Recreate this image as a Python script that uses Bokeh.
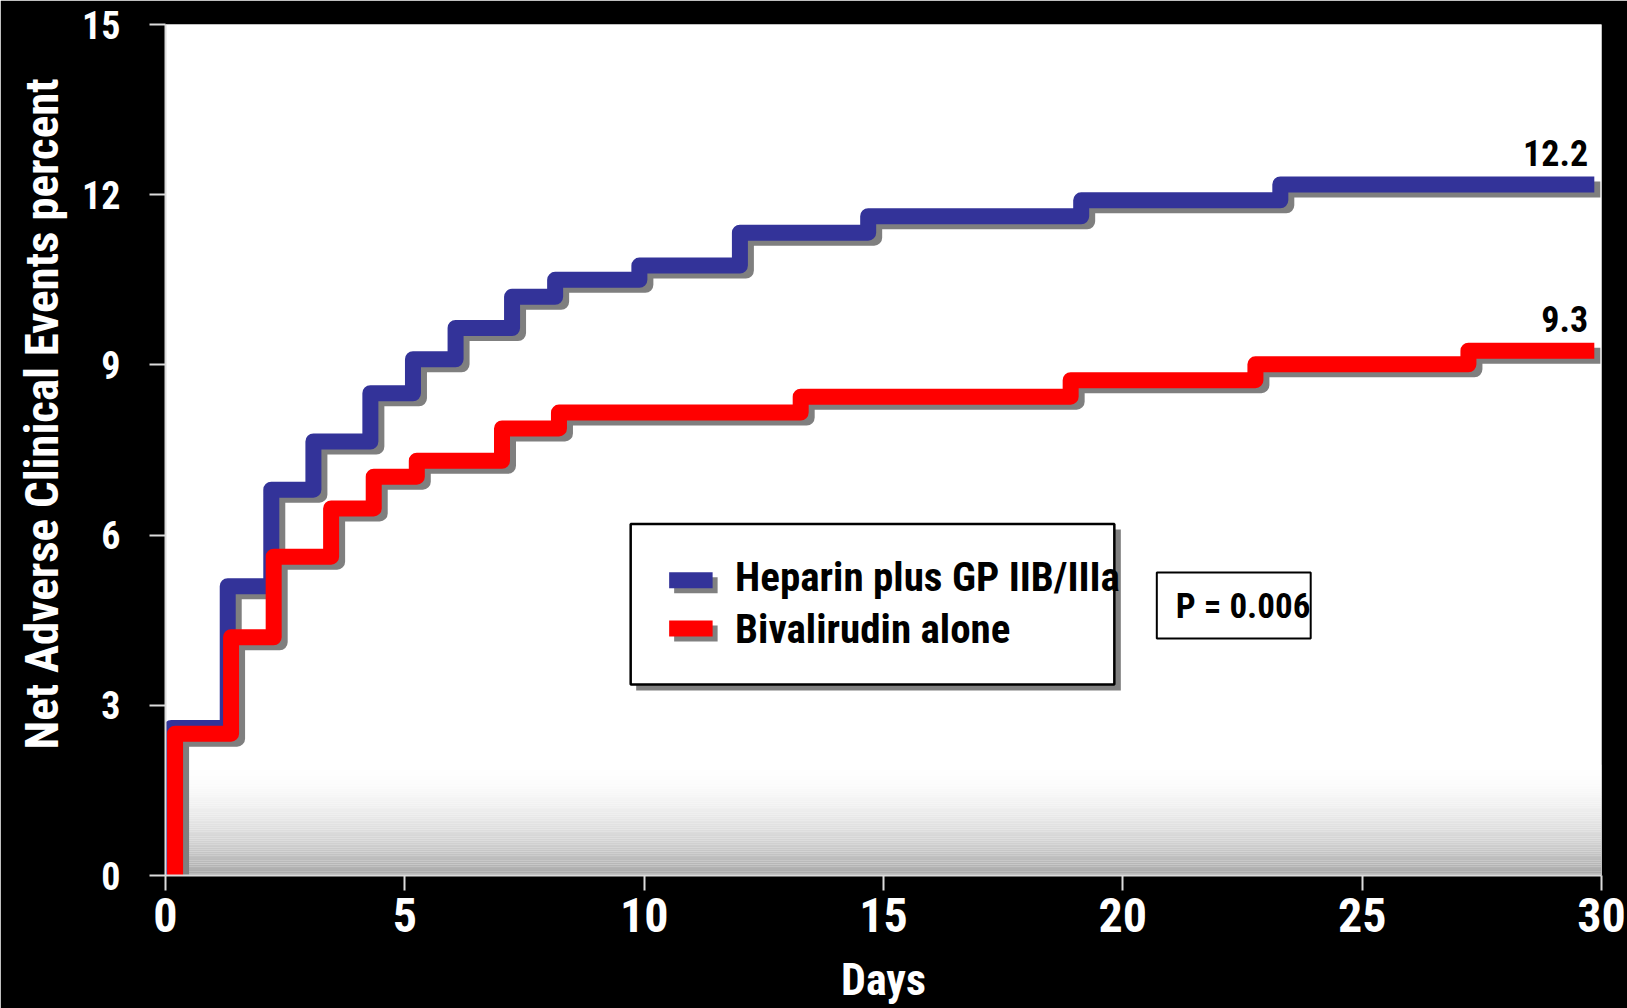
from bokeh.plotting import figure
from bokeh.models import Range1d, FixedTicker, Title
from bokeh.core.properties import value
from bokeh.embed import file_html
from bokeh.resources import INLINE

# ---------------- data ----------------
series_names = ["Heparin plus GP IIB/IIIa", "Bivalirudin alone"]
series_colors = ["#333399", "#ff0000"]

heparin_days = [0.12, 1.30, 2.21, 3.09, 4.28, 5.17, 6.06, 7.24, 8.14, 9.90, 12.00, 14.68, 19.13, 23.29]
heparin_pct = [2.6, 5.1, 6.8, 7.65, 8.5, 9.1, 9.65, 10.2, 10.5, 10.75, 11.33, 11.62, 11.9, 12.18]

bival_days = [0.20, 1.37, 2.26, 3.46, 4.35, 5.25, 7.03, 8.22, 13.27, 18.91, 22.77, 27.22]
bival_pct = [2.5, 4.2, 5.62, 6.47, 7.03, 7.31, 7.88, 8.16, 8.44, 8.73, 9.01, 9.25]

end_day = 29.85
final_labels = ["12.2", "9.3"]
p_value_text = "P = 0.006"

x_ticks = [0, 5, 10, 15, 20, 25, 30]
y_ticks = [0, 3, 6, 9, 12, 15]
x_title = "Days"
y_title = "Net Adverse Clinical Events percent"

# ---------------- layout / style ----------------
W, H = 1627, 1008
LEFT, RIGHT, TOP, BOTTOM = 164, 26, 24, 133
FW, FH = W - LEFT - RIGHT, H - TOP - BOTTOM
X0, X1, Y0, Y1 = 0, 30, 0, 15
FONT = "Roboto Condensed"
CAP = 0.355  # half cap height (em) - text glyph anchor correction


def px2x(px):
    return X0 + (px - LEFT) * (X1 - X0) / FW


def py2y(py):
    return Y0 + (TOP + FH - py) * (Y1 - Y0) / FH


def dx(px):
    return px * (X1 - X0) / FW


def dy(px):
    return px * (Y1 - Y0) / FH


def step_path(days, pct, end):
    xs, ys = [days[0]], [0.0]
    for i, (d, v) in enumerate(zip(days, pct)):
        xs.append(d)
        ys.append(v)
        nxt = days[i + 1] if i + 1 < len(days) else end
        xs.append(nxt)
        ys.append(v)
    return xs, ys


p = figure(width=W, height=H, x_range=Range1d(X0, X1), y_range=Range1d(Y0, Y1),
           output_backend="svg", toolbar_location=None,
           min_border_left=LEFT, min_border_right=RIGHT,
           min_border_top=TOP, min_border_bottom=BOTTOM,
           background_fill_color="white", border_fill_color="black",
           outline_line_color=None)
p.grid.visible = False

# gradient near the bottom of the plot area
n_strips = 60
g_top = 1.95
for i in range(n_strips):
    y_hi = g_top - g_top * i / n_strips
    y_lo = g_top - g_top * (i + 1) / n_strips
    t = (i + 0.5) / n_strips
    g = int(round(255 - 88 * t ** 1.8))
    col = "#%02x%02x%02x" % (g, g, g)
    p.quad(left=X0, right=X1, bottom=y_lo, top=y_hi, fill_color=col, line_color=None)

# step curves with drop shadows
sx, sy = dx(6), dy(5)
for days, pct, color in [(heparin_days, heparin_pct, series_colors[0]),
                         (bival_days, bival_pct, series_colors[1])]:
    xs, ys = step_path(days, pct, end_day)
    p.line([x + sx for x in xs], [y - sy for y in ys], line_color="#7f7f7f", line_width=16,
           line_join="round", line_cap="butt")
    p.line(xs, ys, line_color=color, line_width=16, line_join="round", line_cap="butt")


def put_text(xs, base_ys, texts, size, align="left"):
    p.text(x=xs, y=[b + dy(CAP * size) for b in base_ys], text=texts,
           text_font=value(FONT), text_font_style="bold", text_font_size="%dpx" % size,
           text_align=align, text_baseline="alphabetic", text_color="black")


# end-value labels
finals = [heparin_pct[-1], bival_pct[-1]]
put_text([end_day - 0.13] * 2, [v + 0.33 for v in finals], final_labels, 36, align="right")

# legend box (drawn by hand to get the drop shadows)
p.quad(left=px2x(635), right=px2x(1120), top=py2y(529), bottom=py2y(690),
       fill_color="#808080", line_color=None)
p.quad(left=px2x(629.5), right=px2x(1113.5), top=py2y(523.5), bottom=py2y(684),
       fill_color="white", line_color="black", line_width=2.5)
row_tops = [571.7, 620]
row_base = [591.5, 643.5]
for i, name in enumerate(series_names):
    p.quad(left=px2x(673), right=px2x(716.5), top=py2y(row_tops[i] + 5), bottom=py2y(row_tops[i] + 21),
           fill_color="#808080", line_color=None)
    p.quad(left=px2x(668), right=px2x(711.5), top=py2y(row_tops[i]), bottom=py2y(row_tops[i] + 16),
           fill_color=series_colors[i], line_color=None)
put_text([px2x(734)] * 2, [py2y(b) for b in row_base], series_names, 41)

# p-value box
p.quad(left=px2x(1156), right=px2x(1310), top=py2y(572), bottom=py2y(638),
       fill_color="white", line_color="black", line_width=2)
put_text([px2x(1175)], [py2y(618.3)], [p_value_text], 35)

# axes
for ax in (p.xaxis[0], p.yaxis[0]):
    ax.axis_line_color = "#dcdcdc"
    ax.axis_line_width = 2
    ax.major_tick_line_color = "#dcdcdc"
    ax.major_tick_line_width = 2
    ax.major_tick_in = 0
    ax.minor_tick_line_color = None
    ax.major_label_text_color = "white"
    ax.major_label_text_font = FONT
    ax.major_label_text_font_style = "bold"
    ax.axis_label_text_color = "white"
    ax.axis_label_text_font = FONT
    ax.axis_label_text_font_style = "bold"

p.xaxis.ticker = FixedTicker(ticks=x_ticks)
p.yaxis.ticker = FixedTicker(ticks=y_ticks)
p.xaxis.major_tick_out = 15
p.yaxis.major_tick_out = 16
p.xaxis.major_label_text_font_size = "48px"
p.yaxis.major_label_text_font_size = "38px"
p.xaxis.major_label_standoff = 7
p.yaxis.major_label_standoff = 29
p.xaxis.axis_label = x_title
p.xaxis.axis_label_text_font_size = "44px"
p.xaxis.axis_label_standoff = 19

# y-axis title as a side title so it can sit off-centre like the original
ytitle = Title(text=y_title, align="left", offset=126, standoff=22,
               text_font=FONT, text_font_style="bold", text_font_size="47px",
               text_color="white", vertical_align="bottom")
p.add_layout(ytitle, "left")

open("out.html", "w").write(file_html(p, INLINE))
